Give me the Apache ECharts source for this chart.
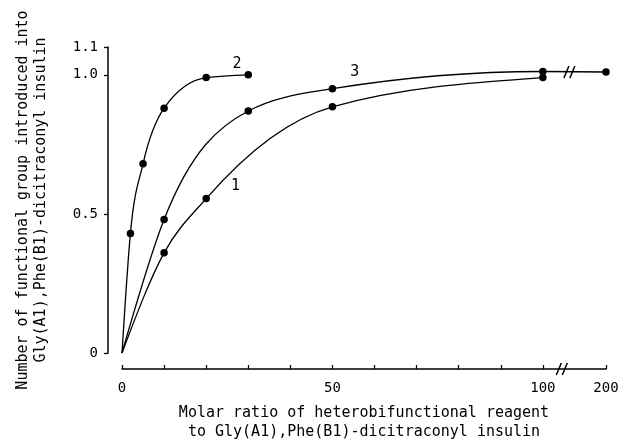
<!DOCTYPE html>
<html>
<head>
<meta charset="utf-8">
<script src="https://cdn.jsdelivr.net/npm/echarts@6/dist/echarts.min.js"></script>
<style>
  html, body { margin: 0; padding: 0; background: #fff; }
  #main { width: 621px; height: 441px; }
</style>
</head>
<body>
<div id="main"></div>
<script type="text/javascript">
    // values
    var curve1X = [0, 10, 20, 50, 100];
    var curve1Y = [0, 0.36, 0.555, 0.885, 0.99];
    var curve2X = [0, 2, 5, 10, 20, 30];
    var curve2Y = [0, 0.43, 0.68, 0.88, 0.99, 1.0];
    var curve3X = [0, 10, 30, 50, 100, 200];
    var curve3Y = [0, 0.48, 0.87, 0.95, 1.012, 1.01];
    var xTickLabels = [0, 50, 100, 200];
    var yTickLabels = [0, 0.5, 1.0, 1.1];

    var FONT = 'DejaVu Sans Mono';
    // axis is broken after 100: 100..200 is squeezed into 15 units
    function bx(x) { return x > 100 ? 100 + (x - 100) * 0.15 : x; }
    function pts(xs, ys) {
        return xs.map(function (x, i) { return [bx(x), ys[i]]; });
    }

    // monotone cubic path (same rule as d3.curveMonotoneX), in pixel space
    function sgn(v) { return v < 0 ? -1 : 1; }
    function monotonePath(p) {
        var n = p.length, t = [], i;
        var h = [], s = [];
        for (i = 0; i < n - 1; i++) {
            h[i] = p[i + 1][0] - p[i][0];
            s[i] = (p[i + 1][1] - p[i][1]) / h[i];
        }
        for (i = 1; i < n - 1; i++) {
            var q = (s[i - 1] * h[i] + s[i] * h[i - 1]) / (h[i - 1] + h[i]);
            t[i] = (sgn(s[i - 1]) + sgn(s[i])) * Math.min(Math.abs(s[i - 1]), Math.abs(s[i]), 0.5 * Math.abs(q)) || 0;
        }
        t[0] = (3 * s[0] - t[1]) / 2;
        t[n - 1] = (3 * s[n - 2] - t[n - 2]) / 2;
        var d = 'M' + p[0][0] + ',' + p[0][1];
        for (i = 0; i < n - 1; i++) {
            var dx = h[i] / 3;
            d += ' C' + (p[i][0] + dx) + ',' + (p[i][1] + dx * t[i]) + ' ' +
                 (p[i + 1][0] - dx) + ',' + (p[i + 1][1] - dx * t[i + 1]) + ' ' +
                 p[i + 1][0] + ',' + p[i + 1][1];
        }
        return d;
    }

    function curveSeries(xs, ys) {
        var data = pts(xs, ys);
        return {
            type: 'custom',
            data: data,
            renderItem: function (params, api) {
                if (params.dataIndex !== 0) return;
                var px = data.map(function (d) { return api.coord(d); });
                return {
                    type: 'path',
                    shape: { pathData: monotonePath(px) },
                    style: { fill: 'none', stroke: '#000', lineWidth: 1.3 }
                };
            },
            silent: true,
            animation: false
        };
    }
    function dotSeries(xs, ys, lbl, lblAt) {
        return {
            type: 'scatter',
            data: pts(xs, ys).filter(function (d) { return d[0] !== 0; }),
            symbol: 'circle',
            symbolSize: 7.5,
            itemStyle: { color: '#000', opacity: 1 },
            markPoint: {
                symbol: 'circle', symbolSize: 0,
                label: { show: true, position: 'inside', color: '#000', fontFamily: FONT, fontSize: 15, formatter: lbl },
                data: [{ coord: lblAt }]
            },
            animation: false
        };
    }

    var myChart = echarts.init(document.getElementById('main'));
    var option = {
        backgroundColor: '#fff',
        animation: false,
        grid: { left: 122, right: 15, top: 47, bottom: 88, outerBoundsMode: 'none', containLabel: false },
        xAxis: {
            type: 'value', min: 0, max: 115, offset: 16,
            name: 'Molar ratio of heterobifunctional reagent\nto Gly(A1),Phe(B1)-dicitraconyl insulin',
            nameLocation: 'middle', nameGap: 35,
            nameTextStyle: { color: '#000', fontFamily: FONT, fontSize: 15, lineHeight: 19 },
            axisLine: { onZero: false, lineStyle: { color: '#000', width: 1.5 } },
            axisTick: { inside: true, length: 4, lineStyle: { color: '#000', width: 1.3 },
                        customValues: [0, 10, 20, 30, 40, 50, 60, 70, 80, 90, 100, 115] },
            axisLabel: { color: '#000', fontFamily: FONT, fontSize: 14, margin: 12,
                         customValues: xTickLabels.map(bx),
                         formatter: function (v) { return v > 100 ? '200' : String(v); } },
            splitLine: { show: false }
        },
        yAxis: {
            type: 'value', min: 0, max: 1.1, offset: 14,
            name: 'Number of functional group introduced into\nGly(A1),Phe(B1)-dicitraconyl insulin',
            nameLocation: 'middle', nameGap: 58,
            nameTextStyle: { color: '#000', fontFamily: FONT, fontSize: 15, lineHeight: 18 },
            axisLine: { show: true, onZero: false, lineStyle: { color: '#000', width: 1.5 } },
            axisTick: { show: true, length: 4, lineStyle: { color: '#000', width: 1.3 },
                        customValues: yTickLabels },
            axisLabel: { color: '#000', fontFamily: FONT, fontSize: 14, margin: 10,
                         customValues: yTickLabels,
                         formatter: function (v) { return v === 0 ? '0' : v.toFixed(1); } },
            splitLine: { show: false }
        },
        series: [
            curveSeries(curve1X, curve1Y),
            curveSeries(curve2X, curve2Y),
            curveSeries(curve3X, curve3Y),
            dotSeries(curve1X, curve1Y, '1', [27, 0.6]),
            dotSeries(curve2X, curve2Y, '2', [27.3, 1.038]),
            dotSeries(curve3X, curve3Y, '3', [55.3, 1.01])
        ]
    };
    myChart.setOption(option);

    // "//" break marks on the axis and on curve 3
    function slashes(cx, cy) {
        var els = [];
        [-3, 3].forEach(function (d) {
            els.push({ type: 'line', shape: { x1: cx + d - 2.5, y1: cy + 6, x2: cx + d + 2.5, y2: cy - 6 },
                       style: { stroke: '#000', lineWidth: 1.5 } });
        });
        return els;
    }
    var pAxis = myChart.convertToPixel({ gridIndex: 0 }, [104.5, 0]);
    var pLine = myChart.convertToPixel({ gridIndex: 0 }, [106.3, 1.01]);
    myChart.setOption({
        graphic: slashes(pAxis[0], pAxis[1] + 16).concat(slashes(pLine[0], pLine[1]))
    });
</script>
</body>
</html>
